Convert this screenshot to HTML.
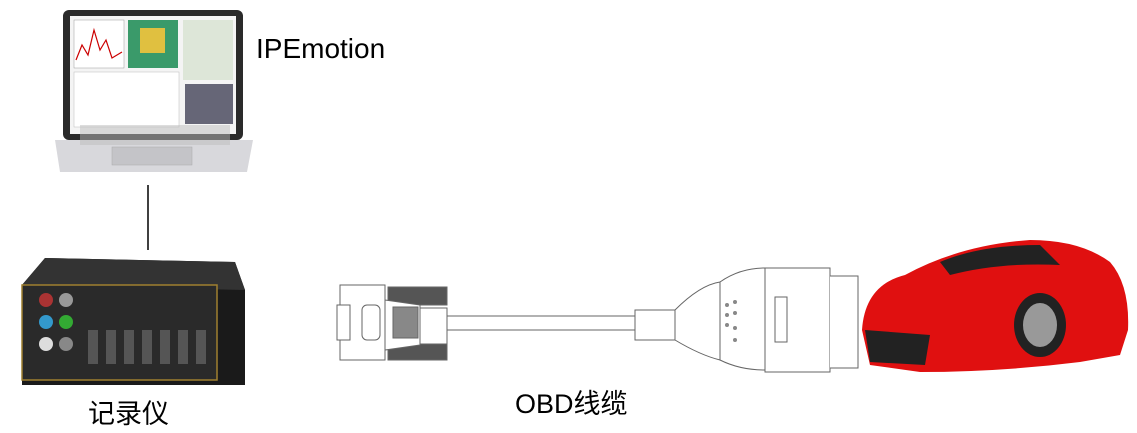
<!DOCTYPE html>
<html><head><meta charset="utf-8"><style>
body{margin:0;width:1137px;height:433px;background:#fff;overflow:hidden;position:relative;font-family:"Liberation Sans","Noto Sans CJK SC",sans-serif}
.t{position:absolute;color:#000;font-size:27px;white-space:nowrap}
</style></head><body>
<svg width="1137" height="433" style="position:absolute;left:0;top:0">
<!-- laptop -->
<rect x="63" y="10" width="180" height="130" rx="6" fill="#2a2a2a"/>
<rect x="70" y="16" width="166" height="118" fill="#f4f4f4"/>
<rect x="74" y="20" width="50" height="48" fill="#fff" stroke="#999" stroke-width="0.5"/>
<polyline points="76,60 82,45 88,55 94,30 100,50 106,40 112,58 122,52" fill="none" stroke="#c00" stroke-width="1.2"/>
<rect x="128" y="20" width="50" height="48" fill="#3a9a6a"/>
<rect x="140" y="28" width="25" height="25" fill="#e0c040"/>
<rect x="183" y="20" width="50" height="60" fill="#dde6d8"/>
<rect x="74" y="72" width="105" height="55" fill="#fff" stroke="#bbb" stroke-width="0.5"/>
<rect x="185" y="84" width="48" height="40" fill="#667"/>
<path d="M55 140 H253 L247 172 H60 Z" fill="#d8d8dc"/>
<rect x="80" y="125" width="150" height="20" fill="#bbb" opacity=".5"/>
<rect x="112" y="147" width="80" height="18" fill="#c4c4c8" stroke="#aaa" stroke-width="0.5"/>
<line x1="148" y1="185" x2="148" y2="250" stroke="#000" stroke-width="1.5"/>
<!-- logger -->
<path d="M45 258 L235 262 L245 290 L245 385 L22 385 L22 285 Z" fill="#1a1a1a"/>
<path d="M45 258 L235 262 L245 290 L22 285 Z" fill="#333"/>
<rect x="22" y="285" width="195" height="95" fill="#2a2a2a" stroke="#a08030" stroke-width="1.5"/>
<circle cx="46" cy="300" r="7" fill="#a33"/><circle cx="66" cy="300" r="7" fill="#999"/>
<circle cx="46" cy="322" r="7" fill="#39c"/><circle cx="66" cy="322" r="7" fill="#3a3"/>
<circle cx="46" cy="344" r="7" fill="#ddd"/><circle cx="66" cy="344" r="7" fill="#888"/>
<g fill="#555"><rect x="88" y="330" width="10" height="34"/><rect x="106" y="330" width="10" height="34"/><rect x="124" y="330" width="10" height="34"/><rect x="142" y="330" width="10" height="34"/><rect x="160" y="330" width="10" height="34"/><rect x="178" y="330" width="10" height="34"/><rect x="196" y="330" width="10" height="34"/></g>
<!-- DB9 -->
<g stroke="#666" stroke-width="1" fill="#fff">
<rect x="340" y="285" width="45" height="75"/>
<rect x="337" y="305" width="13" height="35"/>
<rect x="362" y="305" width="18" height="35" rx="5"/>
<rect x="388" y="287" width="59" height="18" fill="#555"/>
<rect x="388" y="340" width="59" height="20" fill="#555"/>
<path d="M385 300 L420 305 L420 345 L385 350 Z" fill="#fff"/>
<rect x="393" y="307" width="25" height="31" fill="#888"/>
<rect x="420" y="308" width="27" height="36"/>
<rect x="447" y="316" width="195" height="14"/>
<path d="M635 310 h40 v30 h-40 Z"/>
<path d="M675 310 Q700 285 720 282 L720 360 Q700 355 675 340 Z"/>
<path d="M720 282 Q740 268 765 268 L765 370 Q740 370 720 360 Z"/>
<rect x="765" y="268" width="65" height="104"/>
<path d="M830 276 H858 V368 H830"/>
<rect x="775" y="297" width="12" height="45"/>
</g>
<g fill="#888"><circle cx="727" cy="305" r="2"/><circle cx="735" cy="302" r="2"/><circle cx="727" cy="315" r="2"/><circle cx="735" cy="313" r="2"/><circle cx="727" cy="325" r="2"/><circle cx="735" cy="328" r="2"/><circle cx="735" cy="340" r="2"/></g>
<!-- car -->
<path d="M862 330 Q865 285 905 275 Q960 245 1030 240 Q1080 240 1110 262 Q1130 285 1128 330 L1120 355 L1080 362 Q1000 372 920 372 L870 365 Z" fill="#e01010"/>
<path d="M940 262 Q980 245 1040 245 L1060 265 Q1000 262 950 275 Z" fill="#222"/>
<ellipse cx="1040" cy="325" rx="26" ry="32" fill="#222"/><ellipse cx="1040" cy="325" rx="17" ry="22" fill="#999"/>
<path d="M865 330 L930 335 L925 365 L870 362 Z" fill="#222"/>
</svg>
<div class="t" style="left:256px;top:33px;font-size:28px">IPEmotion</div>
<div class="t" style="left:88px;top:392px">记录仪</div>
<div class="t" style="left:515px;top:382px">OBD线缆</div>
</body></html>
